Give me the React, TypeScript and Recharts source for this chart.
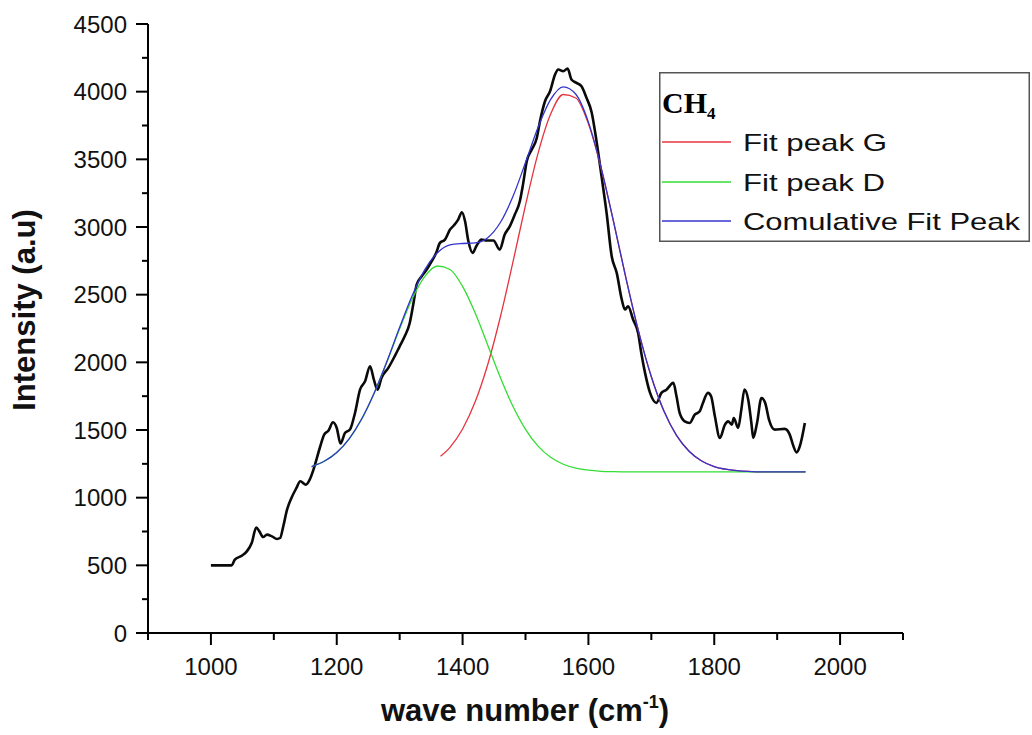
import React from 'react';
import { LineChart, Line, XAxis, YAxis, Legend } from 'recharts';

// Measured Raman spectrum (black curve)
const spectrumX = [
  1000, 1033, 1038, 1049, 1057, 1065, 1072, 1077, 1083, 1089, 1097, 1105, 1110, 1115, 1121, 1128,
  1136, 1142, 1151, 1157, 1163, 1173, 1180, 1187, 1194, 1200, 1206, 1213, 1221, 1229, 1237, 1245,
  1253, 1259, 1265, 1271, 1282, 1292, 1300, 1308, 1316, 1322, 1327, 1335, 1343, 1351, 1358, 1364,
  1372, 1380, 1386, 1393, 1399, 1404, 1409, 1416, 1422, 1430, 1438, 1449, 1459, 1467, 1475, 1483,
  1491, 1496, 1502, 1510, 1518, 1523, 1531, 1539, 1547, 1552, 1560, 1567, 1573, 1581, 1589, 1597,
  1605, 1613, 1621, 1629, 1637, 1645, 1653, 1658, 1663, 1671, 1679, 1684, 1690, 1698, 1708, 1716,
  1724, 1735, 1740, 1745, 1753, 1761, 1769, 1777, 1782, 1790, 1795, 1801, 1809, 1817, 1822, 1828,
  1831, 1838, 1843, 1848, 1854, 1859, 1862, 1868, 1875, 1881, 1887, 1896, 1912, 1920, 1925, 1931,
  1936, 1944,
];
const spectrumY = [
  500, 500, 542, 571, 603, 667, 780, 751, 709, 727, 714, 695, 702, 788, 911, 998,
  1072, 1121, 1096, 1133, 1207, 1367, 1466, 1497, 1557, 1515, 1400, 1478, 1503, 1626, 1798, 1860,
  1971, 1872, 1798, 1885, 1959, 2044, 2118, 2192, 2291, 2439, 2574, 2636, 2685, 2747, 2809, 2883,
  2907, 2981, 3011, 3055, 3109, 3040, 2900, 2809, 2860, 2907, 2900, 2900, 2833, 2944, 3005, 3092,
  3190, 3313, 3486, 3572, 3659, 3781, 3929, 4003, 4127, 4164, 4151, 4171, 4090, 4065, 4040, 3954,
  3850, 3630, 3370, 3100, 2784, 2661, 2464, 2390, 2414, 2316, 2217, 2070, 1922, 1774, 1700, 1774,
  1798, 1848, 1749, 1626, 1564, 1552, 1613, 1638, 1700, 1774, 1749, 1601, 1441, 1540, 1564, 1540,
  1589, 1515, 1650, 1798, 1724, 1552, 1441, 1552, 1737, 1700, 1577, 1503, 1508, 1466, 1392, 1335,
  1380, 1552,
];

// Fit curves D and cumulative share this x grid
const fitX = [
  1160, 1180, 1200, 1220, 1240, 1260, 1280, 1300, 1320, 1340, 1360, 1380, 1400, 1420, 1440, 1460,
  1480, 1500, 1520, 1540, 1560, 1580, 1600, 1620, 1640, 1660, 1680, 1700, 1720, 1740, 1760, 1780,
  1800, 1820, 1840, 1860, 1880, 1900, 1920, 1940, 1945,
];
const fitPeakD = [
  1230, 1269, 1334, 1437, 1584, 1777, 2006, 2248, 2470, 2635, 2712, 2686, 2561, 2364, 2127, 1888,
  1675, 1505, 1381, 1298, 1247, 1218, 1203, 1195, 1192, 1191, 1190, 1190, 1190, 1190, 1190, 1190,
  1190, 1190, 1190, 1190, 1190, 1190, 1190, 1190, 1190,
];
const fitCumulative = [
  1230, 1269, 1334, 1437, 1585, 1779, 2010, 2259, 2494, 2685, 2810, 2868, 2878, 2882, 2921, 3033,
  3225, 3476, 3737, 3943, 4036, 3981, 3775, 3443, 3039, 2615, 2223, 1893, 1640, 1460, 1343, 1271,
  1230, 1209, 1198, 1193, 1191, 1190, 1190, 1190, 1190,
];
// Fit peak G
const fitGX = [
  1365, 1380, 1400, 1420, 1440, 1460, 1480, 1500, 1520, 1540, 1560, 1580, 1600, 1620, 1640, 1660,
  1680, 1700, 1720, 1740, 1760, 1780, 1800, 1820, 1840, 1860, 1880, 1900, 1920, 1940, 1945,
];
const fitPeakG = [
  1306, 1372, 1507, 1708, 1984, 2335, 2740, 3161, 3546, 3835, 3979, 3953, 3762, 3438, 3037, 2615,
  2223, 1893, 1640, 1460, 1343, 1271, 1230, 1209, 1198, 1193, 1191, 1190, 1190, 1190, 1190,
];

const xTicks = [900, 1000, 1100, 1200, 1300, 1400, 1500, 1600, 1700, 1800, 1900, 2000, 2100];
const yTicks = [0, 250, 500, 750, 1000, 1250, 1500, 1750, 2000, 2250, 2500, 2750, 3000, 3250, 3500, 3750, 4000, 4250, 4500];

const legendNames = ['Fit peak G', 'Fit peak D', 'Comulative Fit Peak'];
const legendColors = ['#e6343f', '#33dd33', '#3434cc'];
const legendTextWidths = [144, 142, 277];

const zip = (xs: number[], ys: number[]) => xs.map((x, i) => ({ x, y: ys[i] }));
const spectrumData = zip(spectrumX, spectrumY);
const dData = zip(fitX, fitPeakD);
const sumData = zip(fitX, fitCumulative);
const gData = zip(fitGX, fitPeakG);

const SANS = '"Liberation Sans", Arial, Helvetica, sans-serif';
const SERIF = '"Liberation Serif", "Times New Roman", Times, serif';

function YTick(props: any) {
  const { x, y, payload } = props;
  const v = payload.value as number;
  const major = v % 500 === 0;
  return (
    <g>
      <line x1={x - (major ? 12 : 6)} x2={x} y1={y} y2={y} stroke="#000" strokeWidth={2} />
      {major && (
        <text x={x - 21} y={y} dy={8.5} textAnchor="end" fontSize={24} fontFamily={SANS} fill="#111">
          {v}
        </text>
      )}
    </g>
  );
}

function XTick(props: any) {
  const { x, y, payload } = props;
  const v = payload.value as number;
  const major = v % 200 === 0;
  return (
    <g>
      <line x1={x} x2={x} y1={y} y2={y + (major ? 12 : 7)} stroke="#000" strokeWidth={2} />
      {major && (
        <text x={x} y={y + 42} textAnchor="middle" fontSize={24} fontFamily={SANS} fill="#111">
          {v}
        </text>
      )}
    </g>
  );
}

function YTitle() {
  return (
    <text
      x={35}
      y={310}
      transform="rotate(-90, 35, 310)"
      textAnchor="middle"
      fontSize={31}
      fontWeight="bold"
      fontFamily={SANS}
      fill="#111"
    >
      Intensity (a.u)
    </text>
  );
}

function XTitle() {
  return (
    <text x={525} y={721} textAnchor="middle" fontSize={31} fontWeight="bold" fontFamily={SANS} fill="#111">
      wave number (cm
      <tspan fontSize={18} dy={-13}>-1</tspan>
      <tspan dy={13}>)</tspan>
    </text>
  );
}

function LegendBox() {
  const rowY = [70, 110, 149];
  return (
    <svg width={372} height={171} style={{ display: 'block' }}>
      <rect x={0.75} y={0.75} width={369.5} height={168.5} fill="#fff" stroke="#555" strokeWidth={1.5} />
      <text x={3} y={41} fontFamily={SERIF} fontWeight="bold" fontSize={30} fill="#000">
        CH
        <tspan fontSize={17} dy={6}>4</tspan>
      </text>
      {legendNames.map((name, i) => (
        <g key={name}>
          <line x1={3} x2={72} y1={rowY[i]} y2={rowY[i]} stroke={legendColors[i]} strokeWidth={1.3} />
          <text
            x={84}
            y={rowY[i] + 8.5}
            fontSize={24}
            fontFamily={SANS}
            fill="#111"
            textLength={legendTextWidths[i]}
            lengthAdjust="spacingAndGlyphs"
          >
            {name}
          </text>
        </g>
      ))}
    </svg>
  );
}

export default function App() {
  return (
    <div style={{ position: 'absolute', left: 0, top: 0, width: 1032, height: 735, background: '#fff' }}>
      <LineChart width={1032} height={735} margin={{ top: 24, right: 129, bottom: 0, left: 0 }}>
        <XAxis
          type="number"
          dataKey="x"
          domain={[900, 2100]}
          ticks={xTicks}
          interval={0}
          allowDataOverflow
          height={102}
          tickSize={0}
          tickMargin={0}
          tickLine={false}
          tick={<XTick />}
          axisLine={{ stroke: '#000', strokeWidth: 2 }}
          label={<XTitle />}
        />
        <YAxis
          type="number"
          dataKey="y"
          domain={[0, 4500]}
          ticks={yTicks}
          interval={0}
          allowDataOverflow
          width={148}
          tickSize={0}
          tickMargin={0}
          tickLine={false}
          tick={<YTick />}
          axisLine={{ stroke: '#000', strokeWidth: 2 }}
          label={<YTitle />}
        />
        <Legend
          layout="horizontal"
          verticalAlign="middle"
          align="center"
          wrapperStyle={{ position: 'absolute', left: 659, top: 72, width: 372, height: 171 }}
          content={() => <LegendBox />}
        />
        <Line
          data={spectrumData}
          dataKey="y"
          name="CH4 spectrum"
          type="monotone"
          stroke="#0a0a0a"
          strokeWidth={2.6}
          dot={false}
          activeDot={false}
          isAnimationActive={false}
          legendType="none"
        />
        <Line
          data={gData}
          dataKey="y"
          name={legendNames[0]}
          type="monotone"
          stroke={legendColors[0]}
          strokeWidth={1.3}
          dot={false}
          activeDot={false}
          isAnimationActive={false}
        />
        <Line
          data={dData}
          dataKey="y"
          name={legendNames[1]}
          type="monotone"
          stroke={legendColors[1]}
          strokeWidth={1.3}
          dot={false}
          activeDot={false}
          isAnimationActive={false}
        />
        <Line
          data={sumData}
          dataKey="y"
          name={legendNames[2]}
          type="monotone"
          stroke={legendColors[2]}
          strokeWidth={1.3}
          dot={false}
          activeDot={false}
          isAnimationActive={false}
        />
      </LineChart>
    </div>
  );
}
